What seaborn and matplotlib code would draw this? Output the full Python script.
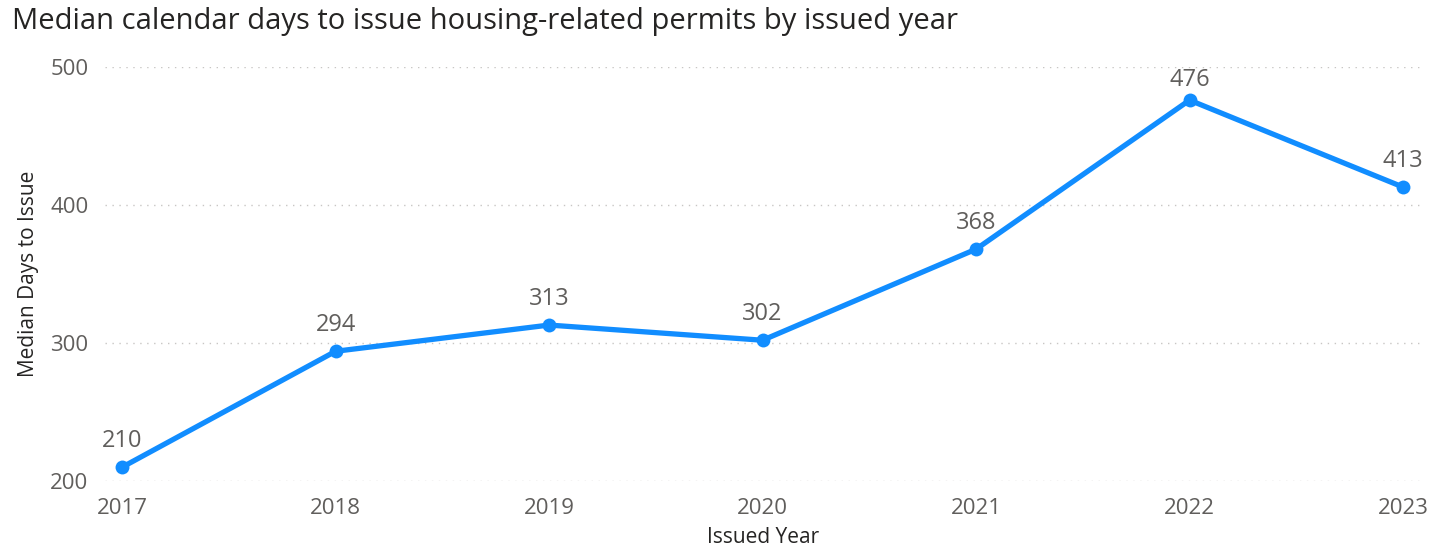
import matplotlib
matplotlib.use('Agg')
import matplotlib.pyplot as plt
import seaborn as sns
import pandas as pd

years = [2017, 2018, 2019, 2020, 2021, 2022, 2023]
median_days = [210, 294, 313, 302, 368, 476, 413]

df = pd.DataFrame({'Issued Year': years, 'Median Days to Issue': median_days})

sns.set_theme(style='white')
plt.rcParams['font.family'] = ['Open Sans', 'DejaVu Sans']

fig = plt.figure(figsize=(14.33, 5.48), dpi=100)
ax = fig.add_axes([0.0733, 0.1223, 0.9177, 0.7554])

sns.lineplot(data=df, x='Issued Year', y='Median Days to Issue', ax=ax,
             color='#118DFF', linewidth=3.8, marker='o', markersize=10,
             markeredgewidth=0, clip_on=False)

# value labels above points
for x, y in zip(years, median_days):
    off = 6 if y > 450 else 10
    ax.annotate(str(y), (x, y), xytext=(0, off), textcoords='offset points',
                ha='center', va='bottom', fontsize=17, color='#605E5C')

ax.set_xlim(2016.92, 2023.08)
ax.set_ylim(200, 500)
ax.set_xticks(years)
ax.set_yticks([200, 300, 400, 500])
ax.grid(axis='y', linestyle=(0, (1, 4)), color='#C8C6C4', linewidth=1)
ax.grid(axis='x', visible=False)
for s in ax.spines.values():
    s.set_visible(False)
ax.tick_params(axis='both', length=0, labelsize=16, labelcolor='#605E5C')
ax.tick_params(axis='x', pad=12)
ax.tick_params(axis='y', pad=12)

ax.set_xlabel('Issued Year', fontsize=15, color='#252423', labelpad=6)
ax.set_ylabel('Median Days to Issue', fontsize=15, color='#252423', labelpad=8)

fig.text(0.0085, 0.96, 'Median calendar days to issue housing-related permits by issued year',
         fontsize=21, color='#252423', ha='left', va='center')

fig.savefig('out.png', dpi=100)
